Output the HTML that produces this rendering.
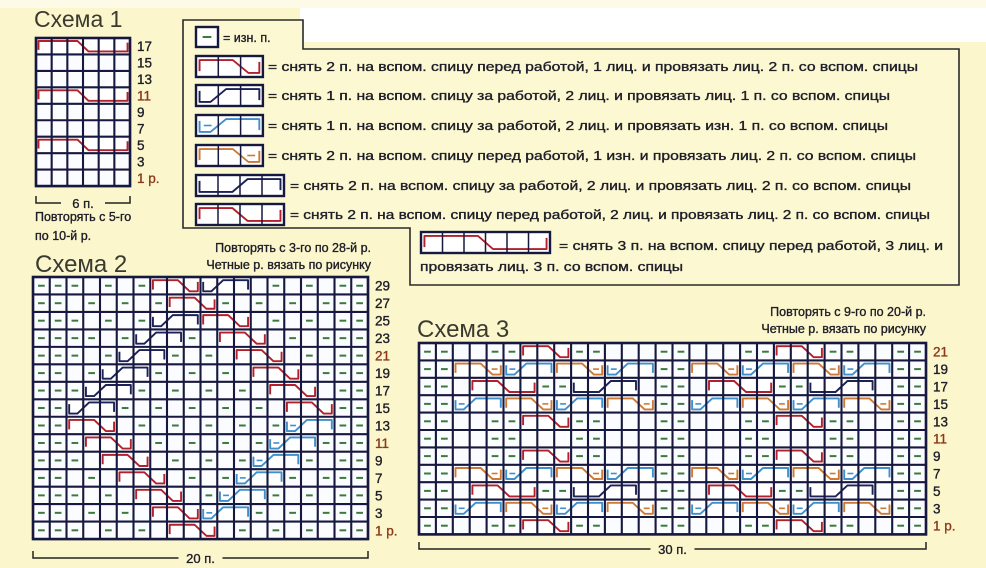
<!DOCTYPE html>
<html><head><meta charset="utf-8"><style>
html,body{margin:0;padding:0;background:#fbf6cc;}
svg{display:block}
text{font-family:"Liberation Sans","DejaVu Sans",sans-serif;fill:#1e1e28;stroke:#1e1e28;stroke-width:0.35}
</style></head><body>
<svg id="s" width="986" height="568" viewBox="0 0 986 568" xmlns="http://www.w3.org/2000/svg">
<rect width="986" height="568" fill="#fbf6cc"/>
<rect x="300" y="0" width="686" height="42" fill="#ffffff"/>
<rect x="0" y="0" width="986" height="8" fill="#fdfbe8"/>
<path d="M183,20 H303 V49 H959 V285 H410 V228 H183 Z" fill="#fcf8d2" stroke="#2a2a2a" stroke-width="1.6"/>
<g id="g"></g>
<text x="34" y="27" font-size="23" style="fill:#3a3a30;stroke:none">Схема 1</text>
<text x="35" y="272" font-size="24" style="fill:#3a3a30;stroke:none">Схема 2</text>
<text x="417" y="337" font-size="24" style="fill:#3a3a30;stroke:none">Схема 3</text>
<text x="223" y="42" font-size="12.5">= изн. п.</text>
<text x="268" y="71" font-size="12.5" textLength="650" lengthAdjust="spacingAndGlyphs">= снять 2 п. на вспом. спицу перед работой, 1 лиц. и провязать лиц. 2 п. со вспом. спицы</text>
<text x="268" y="100" font-size="12.5" textLength="622" lengthAdjust="spacingAndGlyphs">= снять 1 п. на вспом. спицу за работой, 2 лиц. и провязать лиц. 1 п. со вспом. спицы</text>
<text x="268" y="130" font-size="12.5" textLength="620" lengthAdjust="spacingAndGlyphs">= снять 1 п. на вспом. спицу за работой, 2 лиц. и провязать изн. 1 п. со вспом. спицы</text>
<text x="268" y="160" font-size="12.5" textLength="648" lengthAdjust="spacingAndGlyphs">= снять 2 п. на вспом. спицу перед работой, 1 изн. и провязать лиц. 2 п. со вспом. спицы</text>
<text x="290" y="190" font-size="12.5" textLength="621" lengthAdjust="spacingAndGlyphs">= снять 2 п. на вспом. спицу за работой, 2 лиц. и провязать лиц. 2 п. со вспом. спицы</text>
<text x="290" y="219" font-size="12.5" textLength="640" lengthAdjust="spacingAndGlyphs">= снять 2 п. на вспом. спицу перед работой, 2 лиц. и провязать лиц. 2 п. со вспом. спицы</text>
<text x="559" y="250" font-size="12.5" textLength="384" lengthAdjust="spacingAndGlyphs">= снять 3 п. на вспом. спицу перед работой, 3 лиц. и</text>
<text x="420" y="271" font-size="12.5" textLength="263" lengthAdjust="spacingAndGlyphs">провязать лиц. 3 п. со вспом. спицы</text>
<text x="35" y="221" font-size="12.5">Повторять с 5-го</text>
<text x="35" y="240" font-size="12.5">по 10-й р.</text>
<text x="371" y="252" font-size="12.5" text-anchor="end">Повторять с 3-го по 28-й р.</text>
<text x="371" y="269" font-size="12.5" text-anchor="end">Четные р. вязать по рисунку</text>
<text x="926" y="316" font-size="12.5" text-anchor="end">Повторять с 9-го по 20-й р.</text>
<text x="926" y="333" font-size="12.5" text-anchor="end">Четные р. вязать по рисунку</text>
</svg>
<script>
var NS="http://www.w3.org/2000/svg",G=document.getElementById('g');
function el(t,a,txt){var e=document.createElementNS(NS,t);for(var k in a)e.setAttribute(k,a[k]);if(txt!=null)e.textContent=txt;G.appendChild(e);return e;}
var COL={R:'#b3202c',O:'#cc7a35',D:'#1c2158',L:'#3f8fcc',R4:'#b3202c',D4:'#1c2158',R6:'#b3202c'};
function cable(x0,y0,w,h,n,t){
  var c=COL[t],m=Math.max(2.5,w*0.16),x1=x0+n*w,yt=y0+m+0.5,yb=y0+h-m-0.5;
  var front=(t[0]=='R'||t[0]=='O');
  var cx;
  if(n==3){cx=front?x0+2*w:x0+w;} else cx=x0+n*w/2;
  var dx=w*0.35,d;
  if(front){
    d='M'+(x0+m)+','+(y0+h*0.72)+' V'+yt+' H'+(cx-dx)+' L'+(cx+dx)+','+yb+' H'+(x1-m)+' V'+(y0+h*0.28);
  } else {
    d='M'+(x0+m)+','+(y0+h*0.28)+' V'+yb+' H'+(cx-dx)+' L'+(cx+dx)+','+yt+' H'+(x1-m)+' V'+(y0+h*0.72);
  }
  el('rect',{x:x0+1,y:y0+1,width:n*w-2,height:h-2,fill:'#fff'});
  el('path',{d:d,fill:'none',stroke:c,'stroke-width':1.9,'stroke-linejoin':'round'});
  if(t=='L'){el('line',{x1:x0+w*0.35,x2:x0+w*0.7,y1:y0+h/2,y2:y0+h/2,stroke:c,'stroke-width':1.6});}
  if(t=='O'){el('line',{x1:x1-w*0.7,x2:x1-w*0.35,y1:y0+h/2,y2:y0+h/2,stroke:c,'stroke-width':1.6});}
}
function dash(x,y,w,h){el('line',{x1:x+w*0.3,x2:x+w*0.7,y1:y+h/2,y2:y+h/2,stroke:'#3c7a3c','stroke-width':2});}
var LEN={R:3,O:3,D:3,L:3,R4:4,D4:4,R6:6};
function grid(x,y,cols,rows,w,h,data){
  el('rect',{x:x,y:y,width:cols*w,height:rows*h,fill:'#fbfcff'});
  for(var r=0;r<rows;r++){var row=data[r]||{};var ds=row.d||[],cs=row.c||[];
    ds.forEach(function(c){dash(x+c*w,y+r*h,w,h);});
    cs.forEach(function(cc){cable(x+cc[1]*w,y+r*h,w,h,LEN[cc[0]],cc[0]);});
  }
  var p='';
  for(var i=0;i<=cols;i++)p+='M'+(x+i*w)+','+y+'V'+(y+rows*h);
  for(var j=0;j<=rows;j++)p+='M'+x+','+(y+j*h)+'H'+(x+cols*w);
  el('path',{d:p,stroke:'#16183f','stroke-width':2.1,fill:'none'});
  el('rect',{x:x,y:y,width:cols*w,height:rows*h,fill:'none',stroke:'#16183f','stroke-width':2.6});
}
function labels(x,y,h,list){list.forEach(function(s,i){var br=(s=='11'||s=='21'||s=='1 р.');
  el('text',{x:x,y:y+i*h+h/2+5,'font-size':13.5,style:br?'fill:#8c3a1c;stroke:#8c3a1c':''},s);});}
function bracket(x0,x1,y,label){
  el('path',{d:'M'+x0+','+(y-7)+'V'+y+'H'+x1+'V'+(y-7),fill:'none',stroke:'#222','stroke-width':1.5});
  var cx=(x0+x1)/2;el('rect',{x:cx-22,y:y-8,width:44,height:16,fill:'#fbf6cc'});
  el('text',{x:cx,y:y+5,'font-size':13,'text-anchor':'middle'},label);
}
var s1=[];for(var i=0;i<9;i++)s1.push({});[0,3,6].forEach(function(r){s1[r]={c:[['R6',0]]};});
grid(36,38,6,9,15.67,16.45,s1);
labels(137,38,16.45,['17','15','13','11','9','7','5','3','1 р.']);
bracket(36,130,203,'6 п.');
var s2=[],red={29:7,27:8,25:10,23:11,21:12,19:13,17:14,15:15,13:2,11:3,9:4,7:5,5:6,3:7,1:8},
 blu={29:10,25:7,23:6,21:5,19:4,17:3,15:2},lb={13:15,11:14,9:13,7:12,5:11,3:10};
for(var k=0;k<15;k++){var rn=29-2*k,occ={},cs=[];
  function add(t,c){cs.push([t,c]);for(var q=0;q<3;q++)occ[c+q]=1;}
  if(red[rn]!=null)add('R',red[rn]);if(blu[rn]!=null)add('D',blu[rn]);if(lb[rn]!=null)add('L',lb[rn]);
  var ds=[];for(var c=0;c<20;c++){if(occ[c])continue;
    if(c<2||c>17||((c+k)%2==0)||(c==2&&k%3==0))ds.push(c);}
  s2.push({c:cs,d:ds});}
grid(33,277,20,15,16.75,17.47,s2);
var l2=[];for(var k=0;k<15;k++){var rn=29-2*k;l2.push(rn==1?'1 р.':''+rn);}
labels(375,277,17.47,l2);
bracket(33,368,558,'20 п.');
var dA=[0,1,4,5,9,10,14,15,19,20,24,25,28,29];
var A={d:dA,c:[['R',6],['R',21]]},
 B={d:[0,1,14,15,28,29],c:[['O',2],['L',5],['O',8],['L',11],['O',16],['L',19],['O',22],['L',25]]},
 Bb={d:[0,1,14,15,28,29],c:[['L',2],['O',5],['L',8],['O',11],['L',16],['O',19],['L',22],['O',25]]},
 C={d:[0,1,7,8,14,15,21,22,28,29],c:[['R4',3],['D4',9],['R4',17],['D4',23]]},
 Dd={d:dA,c:[]};
grid(419,343,30,11,16.9,17.4,[A,B,C,Bb,A,Dd,A,B,C,Bb,A]);
labels(933,343,17.4,['21','19','17','15','13','11','9','7','5','3','1 р.']);
bracket(419,926,549,'30 п.');
function sym(x,y,n,w,h,t){
  el('rect',{x:x,y:y,width:n*w,height:h,fill:'#fff'});
  if(t=='-')dash(x,y,w,h);else cable(x,y,w,h,n,t);
  var p='';for(var i=1;i<n;i++)p+='M'+(x+i*w)+','+y+'V'+(y+h);
  if(p)el('path',{d:p,stroke:'#16183f','stroke-width':1.5});
  el('rect',{x:x,y:y,width:n*w,height:h,fill:'none',stroke:'#16183f','stroke-width':2.4});
}
sym(196,27,1,22,20,'-');
sym(196,56,3,22.3,21,'R');
sym(196,85,3,22.3,21,'D');
sym(196,115,3,22.3,21,'L');
sym(196,145,3,22.3,21,'O');
sym(196,175,4,22,21,'D4');
sym(196,204,4,22,21,'R4');
sym(421,232,6,21.5,21,'R6');
</script>
</body></html>
